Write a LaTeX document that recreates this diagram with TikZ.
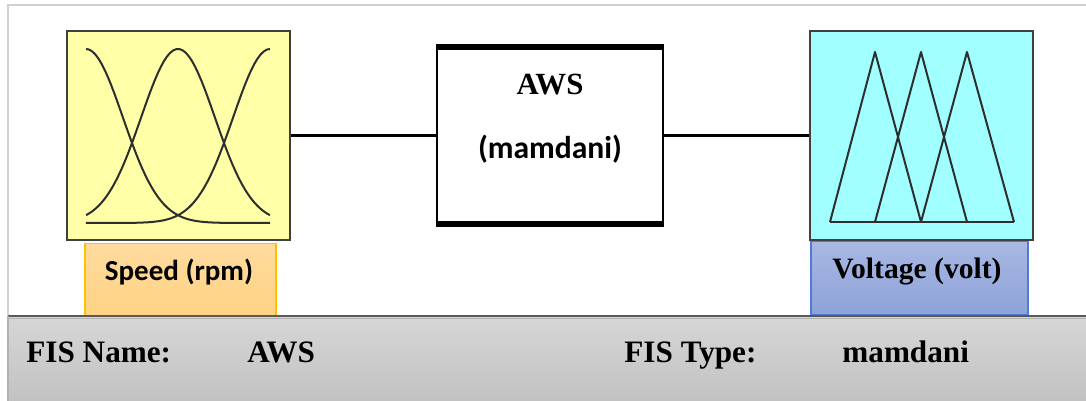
\documentclass[tikz,border=0pt]{standalone}
\usepackage{fontspec}
\setmainfont{Liberation Serif}
\newfontfamily\calibri{Carlito}

\definecolor{inyellow}{HTML}{FFFFA8}
\definecolor{outcyan}{HTML}{A2FFFF}
\definecolor{boxedge}{HTML}{404040}
\definecolor{curvecol}{HTML}{2E2E2E}
\definecolor{speedtop}{HTML}{FFDB9E}
\definecolor{speedbot}{HTML}{FFD283}
\definecolor{speededge}{HTML}{FFC000}
\definecolor{volttop}{HTML}{A9B7E3}
\definecolor{voltbot}{HTML}{8DA3D8}
\definecolor{voltedge}{HTML}{4F7BD0}
\definecolor{paneltop}{HTML}{D6D6D6}
\definecolor{panelbot}{HTML}{C2C2C2}

\tikzset{
  mfbox/.style={draw=boxedge, line width=1pt, inner sep=0pt,
    minimum width=111.5pt, minimum height=104pt},
  tagbox/.style={inner sep=0pt, minimum height=36.5pt},
  wire/.style={line width=1.8pt, black},
  mfcurve/.style={line width=1pt, curvecol, line join=round}
}

\begin{document}
\begin{tikzpicture}[x=0.5pt, y=-0.5pt]
    \useasboundingbox (0,0) rectangle (1086,401);

    % === FRAME ===
    \draw[line width=1.2pt, black!18] (8,316) -- (8,5) -- (1086,5);

    % === INPUT: speed ===
    \node[mfbox, fill=inyellow] (speed) at (178.5,135.5) {};

    % gaussian membership functions
    \draw[mfcurve] plot[domain=0:4.99, samples=60]
        ({86+36.9*\x}, {223-174*exp(-(\x*\x)/2)});
    \draw[mfcurve] plot[domain=-2.49:2.49, samples=60]
        ({178+36.9*\x}, {223-174*exp(-(\x*\x)/2)});
    \draw[mfcurve] plot[domain=-4.99:0, samples=60]
        ({270+36.9*\x}, {223-174*exp(-(\x*\x)/2)});

    % === SYSTEM BLOCK ===
    \node[draw=black, line width=1pt, fill=white, inner sep=0pt,
        minimum width=113pt, minimum height=87.5pt] (fis) at (550,135.5) {};
    \draw[line width=2.6pt] (fis.north west) -- (fis.north east);
    \draw[line width=2.6pt] (fis.south west) -- (fis.south east);
    \node[anchor=base, font=\fontsize{15.4pt}{18pt}\selectfont\bfseries]
        (fisname) at (550,95) {AWS};
    \node[anchor=base, font=\fontsize{15.8pt}{18pt}\calibri\bfseries]
        (fistype) at (550,158) {(mamdani)};

    % === OUTPUT: voltage ===
    \node[mfbox, fill=outcyan] (voltage) at (921,135.5) {};

    % triangular membership functions
    \draw[mfcurve] (830,222) -- (875,52) -- (921,222);
    \draw[mfcurve] (875,222) -- (921,52) -- (967,222);
    \draw[mfcurve] (921,222) -- (967,52) -- (1014,222);
    \draw[mfcurve] (830,222) -- (1014,222);

    % === CONNECTORS ===
    \draw[wire] (speed) -- (fis);
    \draw[wire] (fis) -- (voltage);

    % === LABEL TAGS ===
    \node[tagbox, draw=speededge, line width=0.8pt, top color=speedtop,
        bottom color=speedbot, minimum width=95.5pt] (speedtag) at (180.5,280) {};
    \node[anchor=base, font=\fontsize{14.5pt}{17pt}\calibri\bfseries]
        (speedtext) at (179,280) {Speed (rpm)};

    \node[tagbox, draw=voltedge, line width=0.8pt, top color=volttop,
        bottom color=voltbot, minimum width=108.5pt] (volttag) at (919.5,278) {};
    \node[anchor=base, font=\fontsize{14.8pt}{17pt}\selectfont\bfseries]
        (volttext) at (917,278) {Voltage (volt)};

    % === BOTTOM PANEL ===
    \shade[top color=paneltop, bottom color=panelbot] (8,317) rectangle (1086,401);
    \draw[line width=0.6pt, black!30] (8,318.5) -- (1086,318.5);
    \draw[line width=1pt, black!65] (8,316) -- (1086,316);
    \draw[line width=0.6pt, black!30] (8,316) -- (8,401);

    \node[anchor=base west, inner sep=0pt, font=\fontsize{15.6pt}{18pt}\selectfont\bfseries]
        (namekey) at (26,362) {FIS Name:};
    \node[anchor=base west, inner sep=0pt, font=\fontsize{15.6pt}{18pt}\selectfont\bfseries]
        (nameval) at (247,362) {AWS};
    \node[anchor=base west, inner sep=0pt, font=\fontsize{15.6pt}{18pt}\selectfont\bfseries]
        (typekey) at (624,362) {FIS Type:};
    \node[anchor=base west, inner sep=0pt, font=\fontsize{15.6pt}{18pt}\selectfont\bfseries]
        (typeval) at (842,362) {mamdani};

\end{tikzpicture}
\end{document}
